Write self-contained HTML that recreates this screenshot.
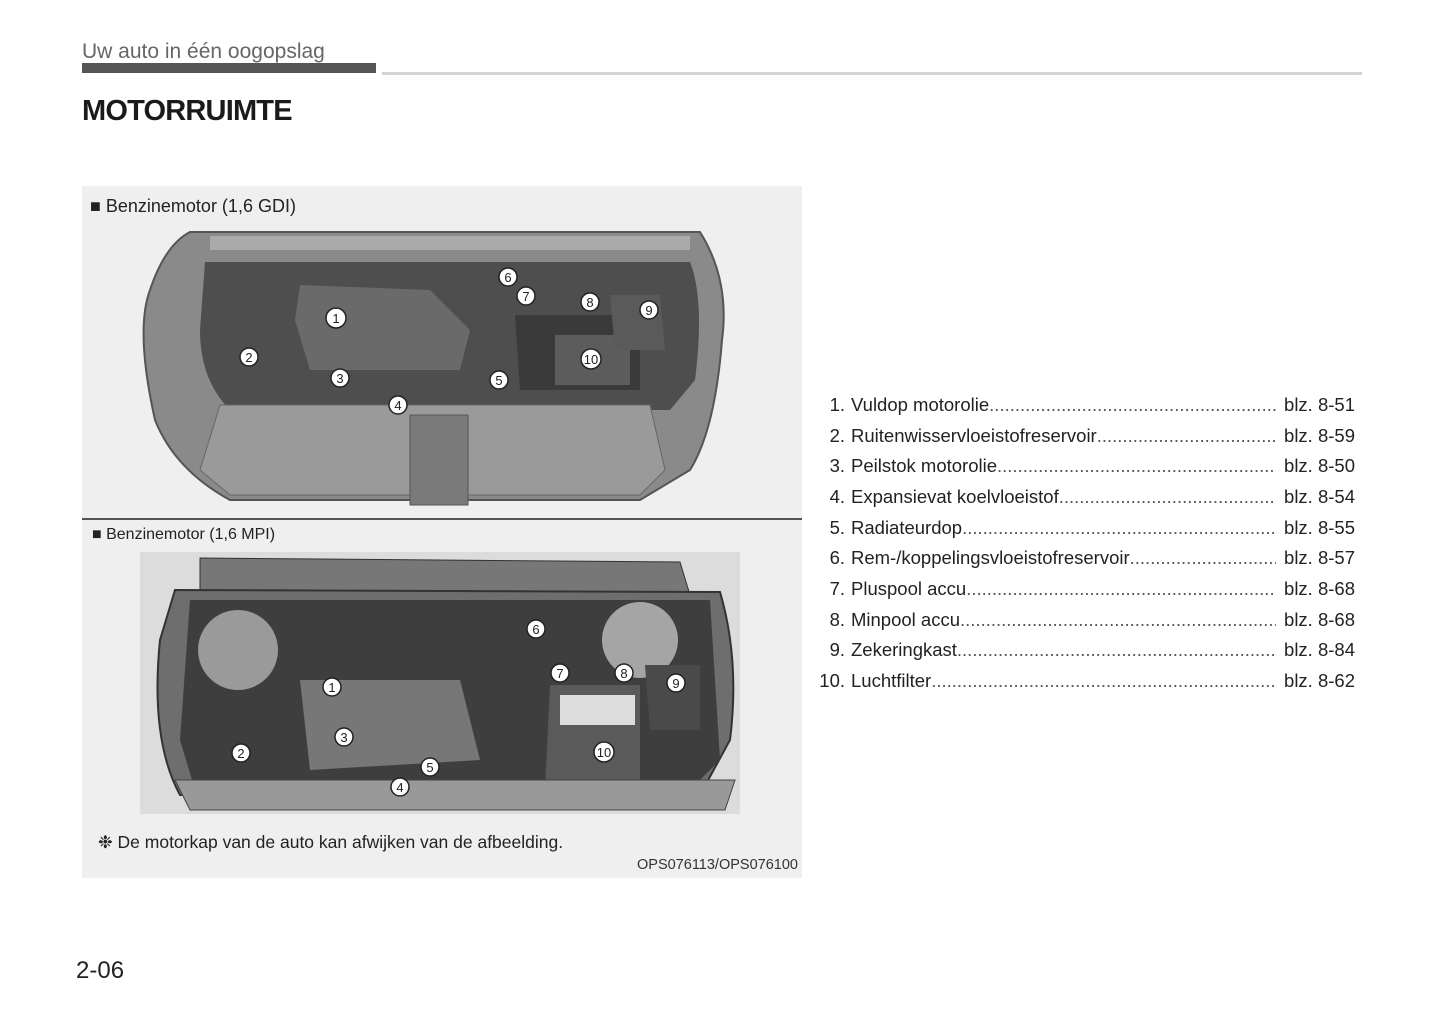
<!DOCTYPE html>
<html><head><meta charset="utf-8"><style>
body{margin:0;width:1445px;height:1019px;background:#fff;position:relative;font-family:"Liberation Sans",sans-serif;overflow:hidden}
.a{position:absolute}
.li{position:absolute;left:812px;width:543px;height:26px;display:flex;font-size:18.5px;color:#222;white-space:nowrap;align-items:baseline}
.li .n{width:33px;text-align:right;margin-right:6px}
.li .t{flex:0 0 auto}
.li .d{flex:1;overflow:hidden;color:#555}
.li .d::after{content:"................................................................................................................................................"}
.li .p{margin-left:8px}
</style></head><body>
<div class="a" style="left:82px;top:40px;font-size:21px;color:#666">Uw auto in één oogopslag</div>
<div class="a" style="left:82px;top:63px;width:294px;height:10px;background:#555"></div>
<div class="a" style="left:382px;top:72px;width:980px;height:3px;background:#d4d4d4"></div>
<div class="a" style="left:82px;top:95px;font-size:29px;font-weight:bold;color:#1a1a1a;letter-spacing:-0.8px">MOTORRUIMTE</div>

<div class="a" style="left:82px;top:186px;width:720px;height:692px;background:#efefef"></div>
<div class="a" style="left:82px;top:518px;width:720px;height:2px;background:#555"></div>
<div class="a" style="left:90px;top:196px;font-size:18px;color:#222">■ Benzinemotor (1,6 GDI)</div>
<div class="a" style="left:92px;top:526px;font-size:16px;color:#222">■ Benzinemotor (1,6 MPI)</div>

<svg class="a" style="left:0;top:0" width="1445" height="1019">
<path d="M190,232 L700,232 Q730,280 722,340 Q715,430 690,470 L640,500 L230,500 Q175,470 155,420 Q135,330 150,290 Q165,245 190,232Z" fill="#8a8a8a" stroke="#555" stroke-width="2"/>
<path d="M205,262 L690,262 Q705,300 695,380 L670,410 L230,410 Q200,380 200,330Z" fill="#4e4e4e"/>
<path d="M300,285 L430,290 L470,330 L460,370 L310,370 L295,320Z" fill="#6a6a6a"/>
<path d="M515,315 L640,315 L640,390 L520,390Z" fill="#3a3a3a"/>
<path d="M555,335 L630,335 L630,385 L555,385Z" fill="#5c5c5c"/>
<path d="M610,295 L660,295 L665,350 L615,350Z" fill="#5a5a5a"/>
<path d="M220,405 L650,405 L665,470 L640,495 L230,495 L200,470Z" fill="#9a9a9a" stroke="#666"/>
<rect x="410" y="415" width="58" height="90" fill="#7a7a7a" stroke="#555"/>
<path d="M210,236 L690,236 L690,250 L210,250Z" fill="#aaa"/>
<rect x="140" y="552" width="600" height="262" fill="#dcdcdc"/>
<path d="M200,558 L680,562 L690,595 L200,590Z" fill="#777" stroke="#333"/>
<path d="M175,590 L720,592 Q740,660 730,740 L700,795 L180,795 Q150,740 160,640Z" fill="#6e6e6e" stroke="#333" stroke-width="2"/>
<path d="M190,600 L710,600 L720,760 L690,790 L195,790 L180,740Z" fill="#3e3e3e"/>
<circle cx="238" cy="650" r="40" fill="#9a9a9a"/>
<circle cx="640" cy="640" r="38" fill="#a5a5a5"/>
<path d="M300,680 L460,680 L480,760 L310,770Z" fill="#777"/>
<path d="M550,685 L640,685 L640,790 L545,790Z" fill="#5a5a5a"/>
<rect x="560" y="695" width="75" height="30" fill="#ddd"/>
<path d="M645,665 L700,665 L700,730 L650,730Z" fill="#4a4a4a"/>
<path d="M175,780 L735,780 L725,810 L190,810Z" fill="#999" stroke="#444"/>
<g fill="#fff" stroke="#222" stroke-width="1.5">
<circle cx="336" cy="318" r="10"/><circle cx="249" cy="357" r="9"/><circle cx="340" cy="378" r="9"/><circle cx="398" cy="405" r="9"/><circle cx="499" cy="380" r="9"/><circle cx="508" cy="277" r="9"/><circle cx="526" cy="296" r="9"/><circle cx="590" cy="302" r="9"/><circle cx="649" cy="310" r="9"/><circle cx="591" cy="359" r="10"/>
<circle cx="332" cy="687" r="9"/><circle cx="241" cy="753" r="9"/><circle cx="344" cy="737" r="9"/><circle cx="400" cy="787" r="9"/><circle cx="430" cy="767" r="9"/><circle cx="536" cy="629" r="9"/><circle cx="560" cy="673" r="9"/><circle cx="624" cy="673" r="9"/><circle cx="676" cy="683" r="9"/><circle cx="604" cy="752" r="10"/>
</g>
<g fill="#222" font-size="13" font-family="Liberation Sans" text-anchor="middle">
<text x="336" y="323">1</text><text x="249" y="362">2</text><text x="340" y="383">3</text><text x="398" y="410">4</text><text x="499" y="385">5</text><text x="508" y="282">6</text><text x="526" y="301">7</text><text x="590" y="307">8</text><text x="649" y="315">9</text><text x="591" y="364">10</text>
<text x="332" y="692">1</text><text x="241" y="758">2</text><text x="344" y="742">3</text><text x="400" y="792">4</text><text x="430" y="772">5</text><text x="536" y="634">6</text><text x="560" y="678">7</text><text x="624" y="678">8</text><text x="676" y="688">9</text><text x="604" y="757">10</text>
</g>
</svg>
<div class="a" style="left:98px;top:832px;font-size:17.5px;color:#222">❉ De motorkap van de auto kan afwijken van de afbeelding.</div>
<div class="a" style="left:637px;top:857px;font-size:14.5px;color:#333">OPS076113/OPS076100</div>

<div class="li" style="top:394px"><span class="n">1.</span><span class="t">Vuldop motorolie</span><span class="d"></span><span class="p">blz. 8-51</span></div>
<div class="li" style="top:425px"><span class="n">2.</span><span class="t">Ruitenwisservloeistofreservoir</span><span class="d"></span><span class="p">blz. 8-59</span></div>
<div class="li" style="top:455px"><span class="n">3.</span><span class="t">Peilstok motorolie</span><span class="d"></span><span class="p">blz. 8-50</span></div>
<div class="li" style="top:486px"><span class="n">4.</span><span class="t">Expansievat koelvloeistof</span><span class="d"></span><span class="p">blz. 8-54</span></div>
<div class="li" style="top:517px"><span class="n">5.</span><span class="t">Radiateurdop</span><span class="d"></span><span class="p">blz. 8-55</span></div>
<div class="li" style="top:547px"><span class="n">6.</span><span class="t">Rem-/koppelingsvloeistofreservoir</span><span class="d"></span><span class="p">blz. 8-57</span></div>
<div class="li" style="top:578px"><span class="n">7.</span><span class="t">Pluspool accu</span><span class="d"></span><span class="p">blz. 8-68</span></div>
<div class="li" style="top:609px"><span class="n">8.</span><span class="t">Minpool accu</span><span class="d"></span><span class="p">blz. 8-68</span></div>
<div class="li" style="top:639px"><span class="n">9.</span><span class="t">Zekeringkast</span><span class="d"></span><span class="p">blz. 8-84</span></div>
<div class="li" style="top:670px"><span class="n">10.</span><span class="t">Luchtfilter</span><span class="d"></span><span class="p">blz. 8-62</span></div>

<div class="a" style="left:76px;top:957px;font-size:24px;color:#222">2-06</div>
</body></html>
